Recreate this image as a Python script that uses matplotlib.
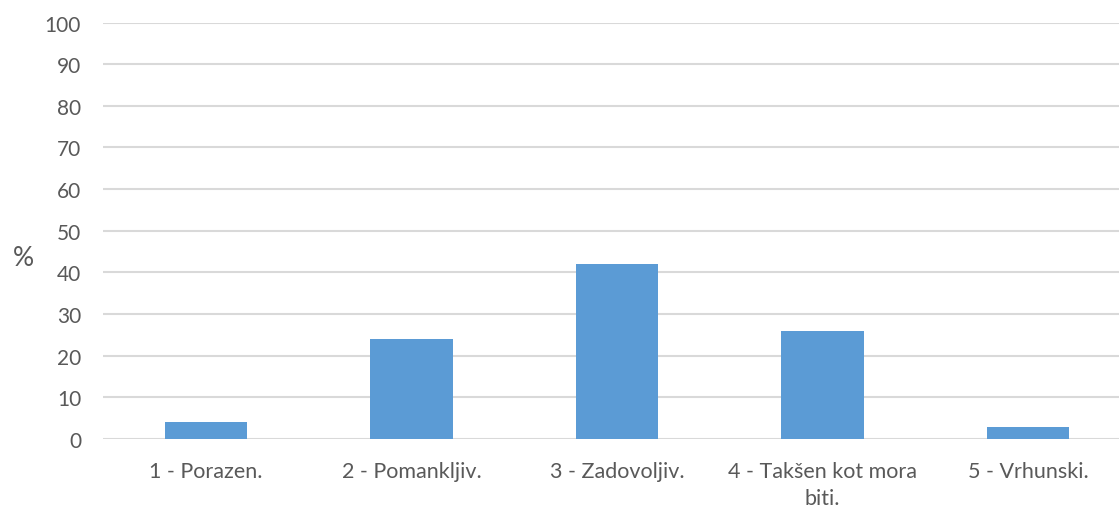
import matplotlib
matplotlib.use("Agg")
import matplotlib.pyplot as plt

categories = ["1 - Porazen.", "2 - Pomankljiv.", "3 - Zadovoljiv.", "4 - Takšen kot mora\nbiti.", "5 - Vrhunski."]
values = [4, 24, 42, 26, 3]
yticks = [0, 10, 20, 30, 40, 50, 60, 70, 80, 90, 100]

plt.rcParams['font.family'] = ['Lato', 'DejaVu Sans']
txt = '#595959'

fig = plt.figure(figsize=(11.19, 5.10), dpi=100)
ax = fig.add_axes([103.25/1119, 70/510, 1027.5/1119, (440 - 23.5)/510])

x = list(range(len(categories)))
ax.bar(x, values, width=0.4, color='#5b9bd5', zorder=3)
ax.set_xlim(-0.5, len(categories) - 0.5)
ax.set_ylim(0, 100)
ax.set_yticks(yticks)
ax.set_xticks(x)
ax.set_xticklabels(categories, fontsize=15.5, color=txt, linespacing=1.4)
ax.tick_params(axis='y', labelsize=15, colors=txt, length=0, pad=16)
ax.tick_params(axis='x', length=0, pad=16)
ax.grid(axis='y', color='#d9d9d9', linewidth=1.5, zorder=0)
for s in ax.spines.values():
    s.set_visible(False)
ax.set_ylabel('%', rotation=0, fontsize=19, color=txt, va='center', ha='center')
ax.yaxis.set_label_coords(-0.078, 0.435)

fig.savefig('out.png', dpi=100)
